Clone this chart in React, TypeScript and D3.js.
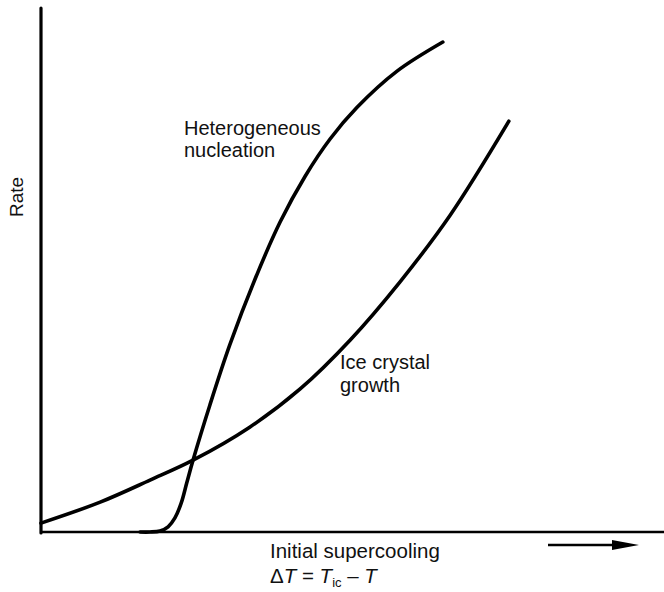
import * as d3 from "d3";
import React from "react";

// Curves (arbitrary units, x: 0..10, y: 0..10)
const nucleationX = [1.59, 1.75, 1.91, 2.04, 2.15, 2.25, 2.34, 2.44, 2.71, 3.03, 3.43, 3.84, 4.24, 4.64, 5.07, 5.71, 6.45];
const nucleationY = [0, 0, 0.02, 0.1, 0.27, 0.55, 0.94, 1.37, 2.42, 3.57, 4.81, 5.92, 6.79, 7.5, 8.1, 8.79, 9.35];

const growthX = [0, 0.95, 1.75, 2.44, 3.35, 4.16, 4.96, 5.76, 6.57, 7.51];
const growthY = [0.17, 0.57, 0.99, 1.37, 2.0, 2.73, 3.66, 4.77, 6.05, 7.84];

const width = 664;
const height = 592;
const margin = { top: 8, right: 0, bottom: 60, left: 41 };
const font = "'Liberation Sans', Arial, Helvetica, sans-serif";

export default function App() {
  const x = d3.scaleLinear().domain([0, 10]).range([margin.left, width - margin.right]);
  const y = d3.scaleLinear().domain([0, 10]).range([height - margin.bottom, margin.top]);

  const line = d3
    .line<[number, number]>()
    .x((d) => x(d[0]))
    .y((d) => y(d[1]))
    .curve(d3.curveCatmullRom.alpha(0.5));

  const nucleation = nucleationX.map((v, i) => [v, nucleationY[i]] as [number, number]);
  const growth = growthX.map((v, i) => [v, growthY[i]] as [number, number]);

  const y0 = y(0);

  return (
    <svg
      width={width}
      height={height}
      viewBox={`0 0 ${width} ${height}`}
      style={{ position: "fixed", left: 0, top: 0, background: "#fff" }}
    >
      {/* axes */}
      <line x1={x(0)} y1={y(10)} x2={x(0)} y2={y0 + 1} stroke="#000" strokeWidth={3.2} strokeLinecap="round" />
      <line x1={x(0)} y1={y0} x2={width} y2={y0} stroke="#000" strokeWidth={2.6} />

      {/* curves */}
      <path d={line(nucleation) ?? ""} fill="none" stroke="#000" strokeWidth={3.6} strokeLinecap="round" />
      <path d={line(growth) ?? ""} fill="none" stroke="#000" strokeWidth={3.6} strokeLinecap="round" />

      {/* labels */}
      <g fontFamily={font} fontSize={20} fill="#111">
        <text x={184} y={134.5}>Heterogeneous</text>
        <text x={184} y={157}>nucleation</text>
        <text x={340} y={369}>Ice crystal</text>
        <text x={340} y={392}>growth</text>
        <text transform="translate(23,197) rotate(-90)" textAnchor="middle" fontSize={19}>
          Rate
        </text>
        <text x={270} y={558} fontSize={20.5}>Initial supercooling</text>
        <text x={270} y={583} fontSize={20.5}>
          <tspan>Δ</tspan>
          <tspan fontStyle="italic">T</tspan>
          <tspan> = </tspan>
          <tspan fontStyle="italic">T</tspan>
          <tspan fontSize={13} dy={4}>ic</tspan>
          <tspan dy={-4}>{"  \u2013 "}</tspan>
          <tspan fontStyle="italic">T</tspan>
        </text>
      </g>

      {/* direction arrow */}
      <line x1={548} y1={545} x2={616} y2={545} stroke="#000" strokeWidth={2.4} />
      <path d="M612,540 L639,545 L612,550 Z" fill="#000" />
    </svg>
  );
}
